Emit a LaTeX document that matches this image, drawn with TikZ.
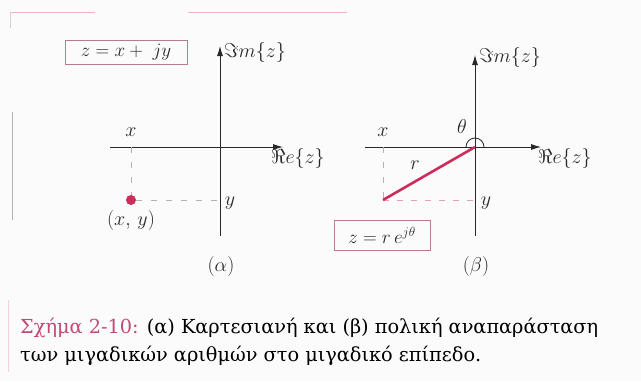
\RequirePackage{fix-cm}
\documentclass[tikz,border=0pt]{standalone}
\usepackage{fontspec}
\newfontfamily\grk{DejaVu Serif}
\usetikzlibrary{arrows.meta}
\definecolor{crim}{RGB}{205,45,90}
\definecolor{pinkline}{RGB}{238,180,195}
\definecolor{boxc}{RGB}{180,125,140}
\definecolor{ink}{RGB}{40,40,40}
\definecolor{capred}{RGB}{195,75,115}
\definecolor{bg}{RGB}{251,251,251}
\begin{document}
\begin{tikzpicture}[x=1pt,y=-1pt,
  axis/.style={draw=ink, line width=0.9pt, -{Latex[length=10pt,width=6pt]}},
  guide/.style={draw=gray!60, dash pattern=on 6pt off 9pt, line width=0.7pt},
  pguide/.style={draw=crim!45, dash pattern=on 6pt off 8pt, line width=0.8pt},
  lbl/.style={text=ink, font=\fontsize{20}{24}\selectfont, inner sep=1pt},
  eqbox/.style={draw=boxc, line width=1pt, text=ink, font=\fontsize{19}{22}\selectfont, inner sep=0pt},
  capline/.style={anchor=base west, inner sep=0pt, text=black, font=\grk\fontsize{19.3}{24}\selectfont}]
\fill[bg] (0,0) rectangle (641,381);
\useasboundingbox (0,0) rectangle (641,381);
% scan edges
\draw[pinkline, line width=1pt] (10,12) -- (95,12);
\draw[pinkline, line width=1pt] (188,12) -- (347,12);
\draw[gray!35, line width=0.8pt] (10,12) -- (10,28);
\draw[gray!60, line width=1pt] (12,112) -- (12,220);
\draw[pinkline!60, line width=1pt] (8,300) -- (8,372);
% ---------- (alpha) ----------
\coordinate (O1) at (220,147);
\coordinate (a1top) at (220,46);
\coordinate (a1bot) at (220,236);
\coordinate (a1left) at (110,147);
\coordinate (a1right) at (283,147);
\draw[axis] (a1bot) -- (a1top);
\draw[axis] (a1left) -- (a1right);
\node[lbl, anchor=west] (im1) at (223,52) {$\Im m\{z\}$};
\node[lbl, anchor=north west] (re1) at (270,147) {$\Re e\{z\}$};
\coordinate (X1) at (131,147);
\coordinate (Y1) at (220,200);
\node[circle, fill=crim, minimum size=10pt, inner sep=0pt] (P1) at (131,200) {};
\draw[guide] (X1) -- (P1);
\draw[guide] (P1) -- (Y1);
\node[lbl] (xl1) at (131,132) {$x$};
\node[lbl] (yl1) at (230,203) {$y$};
\node[lbl] (pl1) at (131,220) {$(x,\,y)$};
\node[lbl] (lab1) at (221,266) {$(\alpha)$};
\node[eqbox, minimum width=122pt, minimum height=24pt] (eq1) at (126,52) {$z = x + \;jy$};
% ---------- (beta) ----------
\coordinate (O2) at (475,147);
\coordinate (a2top) at (475,55);
\coordinate (a2bot) at (475,236);
\coordinate (a2left) at (365,147);
\coordinate (a2right) at (541,147);
\draw[axis] (a2bot) -- (a2top);
\draw[axis] (a2left) -- (a2right);
\node[lbl, anchor=west] (im2) at (478,57) {$\Im m\{z\}$};
\node[lbl, anchor=north west] (re2) at (537,147) {$\Re e\{z\}$};
\coordinate (P2) at (383,200);
\coordinate (X2) at (383,147);
\coordinate (Y2) at (475,200);
\draw[guide] (X2) -- (P2);
\draw[pguide] (P2) -- (Y2);
\draw[crim, line width=2.6pt] (P2) -- (O2);
\draw[ink, line width=0.8pt] (O2) ++(-9,0) arc[start angle=180, end angle=360, radius=9];
\node[lbl] (th) at (462,127) {$\theta$};
\node[lbl] (rl) at (415,165) {$r$};
\node[lbl] (xl2) at (383,132) {$x$};
\node[lbl] (yl2) at (486,203) {$y$};
\node[eqbox, minimum width=96pt, minimum height=30pt] (eq2) at (382,235) {$z = r\,e^{j\theta}$};
\node[lbl] (lab2) at (476,266) {$(\beta)$};
% ---------- caption ----------
\node[capline] (c1) at (20,333) {\textcolor{capred}{Σχήμα 2-10:} (α) Καρτεσιανή και (β) πολική αναπαράσταση};
\node[capline] (c2) at (20,361) {των μιγαδικών αριθμών στο μιγαδικό επίπεδο.};
\end{tikzpicture}
\end{document}
